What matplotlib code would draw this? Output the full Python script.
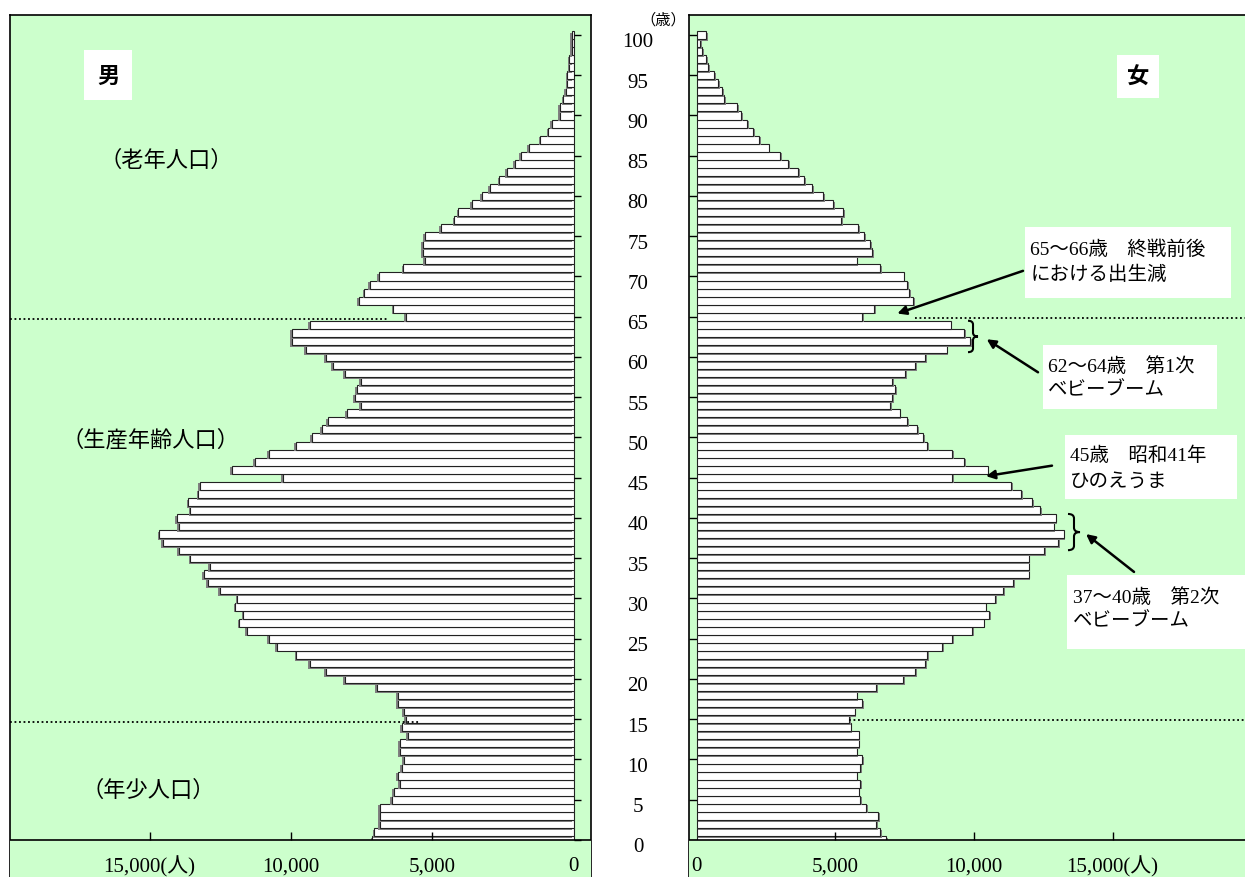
import numpy as np
import matplotlib
matplotlib.use("Agg")
import matplotlib.pyplot as plt
import matplotlib.patheffects as pe
from matplotlib.path import Path
from matplotlib.patches import PathPatch, Rectangle
from matplotlib.transforms import blended_transform_factory, ScaledTranslation

# 年齢別人口（人） 0歳〜100歳以上
ages = np.arange(0, 101)
male = [7118, 7047, 6847, 6847, 6847, 6435, 6364, 6151, 6222, 6081,
        6010, 6151, 6151, 5868, 6081, 5939, 6010, 6222, 6222, 6965,
        8085, 8775, 9330, 9810, 10502, 10785, 11552, 11823, 11681, 11964,
        11894, 12519, 12932, 13073, 12861, 13557, 13970, 14525, 14655, 13970,
        14040, 13557, 13628, 13274, 13215, 10290, 12096, 11270, 10774, 9819,
        9265, 8911, 8705, 8026, 7531, 7743, 7673, 7531, 8085, 8510,
        8775, 9477, 9961, 9961, 9340, 5939, 6375, 7602, 7400, 7200,
        6900, 6021, 5250, 5340, 5340, 5250, 4700, 4220, 4080, 3590,
        3250, 2970, 2630, 2350, 2070, 1870, 1590, 1170, 890, 760,
        490, 490, 360, 280, 220, 220, 150, 150, 60, 50,
        50]
female = [6830, 6614, 6481, 6554, 6121, 5904, 5844, 5904, 5772, 5904,
          5977, 5772, 5844, 5844, 5556, 5495, 5700, 5977, 5772, 6475,
          7455, 7888, 8242, 8309, 8862, 9222, 9930, 10353, 10558, 10425,
          10774, 11062, 11411, 11976, 11976, 11976, 12541, 13034, 13238, 12877,
          12949, 12396, 12108, 11699, 11340, 9223, 10498, 9656, 9223, 8309,
          8165, 7961, 7600, 7323, 6975, 7047, 7167, 7047, 7528, 7888,
          8245, 9019, 9861, 9650, 9160, 5977, 6409, 7810, 7672, 7600,
          7468, 6614, 5772, 6337, 6265, 6049, 5832, 5207, 5279, 4930,
          4570, 4161, 3872, 3668, 3307, 3018, 2597, 2261, 2032, 1816,
          1611, 1467, 986, 914, 770, 625, 409, 337, 204, 120,
          337]

age_ticks = list(range(0, 101, 5))
pop_ticks = [0, 5000, 10000, 15000]
pop_labels = ["0", "5,000", "10,000", "15,000(人)"]

GREEN = "#ccffcc"
NUM_FONT = ["Liberation Serif", "Noto Sans CJK JP"]
JP_FONT = ["Noto Sans CJK JP", "DejaVu Sans"]

W, H = 1245, 878
fig = plt.figure(figsize=(W / 100, H / 100), dpi=100)
fig.patch.set_facecolor("white")


def px_axes(x0, x1, y0, y1):
    return fig.add_axes([x0 / W, 1 - y1 / H, (x1 - x0) / W, (y1 - y0) / H])


axL = px_axes(10, 591, 15.7, 890)
axR = px_axes(689, 1252, 15.7, 890)
axL.set_xlim(19940, -619)
axR.set_xlim(-278, 20032)

for ax, vals, off in ((axL, male, -1.2), (axR, female, 1.2)):
    ax.set_facecolor(GREEN)
    ax.set_ylim(-6.09, 102.52)
    for s in ax.spines.values():
        s.set_linewidth(1.2)
        s.set_color("black")
    ax.barh(ages, vals, height=1.0, color="white", edgecolor="#222222",
            linewidth=0.8, zorder=2,
            path_effects=[pe.SimplePatchShadow(offset=(off, -1.2),
                                               shadow_rgbFace="0.5", alpha=1),
                          pe.Normal()])
    # 0歳の線より下は隠す
    ax.axhspan(-10, 0, color=GREEN, zorder=3, lw=0)
    ax.axhline(0, color="black", lw=1.2, zorder=4)
    ax.vlines(pop_ticks[1:], 0, 1.0, color="black", lw=1, zorder=4)
    for v, lab in zip(pop_ticks, pop_labels):
        ax.text(v, -3.2, lab, ha="center", va="center", fontsize=15,
                family=NUM_FONT, zorder=5)
    ax.set_xticks([])

# 年齢目盛り
axL.set_yticks([])
axL.hlines(age_ticks, 0, -265, color="black", lw=1, zorder=4)
axR.set_yticks(age_ticks)
axR.tick_params(axis="y", direction="in", length=5.5, width=1, labelleft=False)
lab_tr = blended_transform_factory(axR.transAxes, axR.transData) + \
    ScaledTranslation(0, -0.07, fig.dpi_scale_trans)
for a in age_ticks:
    axR.text(-0.0906, a, str(a), transform=lab_tr, ha="center", va="center",
             fontsize=15, family=NUM_FONT, clip_on=False)
fig.text(663 / W, 1 - 20 / H, "（歳）", ha="center", va="center",
         fontsize=11, family=JP_FONT)

# 区分線（点線）
axL.hlines([64.7, 14.7], 19940, [6564, 5467], color="black", lw=1.3,
           linestyles=(0, (1, 1.5)), zorder=4)
axR.hlines([64.9, 14.9], [7875, 5494], 20032, color="black", lw=1.3,
           linestyles=(0, (1, 1.5)), zorder=4)

# 男・女 と人口区分
axL.text(16472, 95.0, "男", ha="center", va="center", fontsize=16,
         fontweight="bold", family=JP_FONT, zorder=6,
         bbox=dict(boxstyle="square,pad=0.6", fc="white", ec="none"))
axR.text(15920, 94.9, "女", ha="center", va="center", fontsize=16,
         fontweight="bold", family=JP_FONT, zorder=6,
         bbox=dict(boxstyle="square,pad=0.45", fc="white", ec="none"))
for txt, x, y in (("（老年人口）", 14420, 84.6),
                  ("（生産年齢人口）", 14986, 49.8),
                  ("（年少人口）", 15057, 6.3)):
    axL.text(x, y, txt, ha="center", va="center", fontsize=16,
             family=JP_FONT, zorder=6)

# 注記ボックス
notes = [
    ((11843, 67.3, 19263, 76.2), 12038, (73.5, 70.3),
     ("65～66歳　終戦前後", "における出生減")),
    ((12504, 53.5, 18759, 61.5), 12673, (58.9, 56.0),
     ("62～64歳　第1次", "ベビーブーム")),
    ((13286, 42.3, 19502, 50.3), 13467, (47.8, 44.6),
     ("45歳　昭和41年", "ひのえうま")),
    ((13369, 23.7, 20100, 32.9), 13564, (30.2, 27.2),
     ("37～40歳　第2次", "ベビーブーム")),
]
for (x0, y0, x1, y1), tx, tys, lines in notes:
    axR.add_patch(Rectangle((x0, y0), x1 - x0, y1 - y0, fc="white",
                            ec="none", zorder=5))
    for ty, line in zip(tys, lines):
        axR.text(tx, ty, line, ha="left", va="center", fontsize=14,
                 family=NUM_FONT, zorder=6)

arrows = [((7237, 65.4), (11771, 70.7)),
          ((10462, 62.2), (12312, 58.1)),
          ((10436, 45.2), (12817, 46.5)),
          ((14044, 38.0), (15776, 33.3))]
for head, tail in arrows:
    axR.annotate("", xy=head, xytext=tail, zorder=6,
                 arrowprops=dict(arrowstyle="-|>", color="black", lw=1.8,
                                 mutation_scale=13, shrinkA=0, shrinkB=0))


def brace(ax, x0, x1, ytop, ybot):
    xm = (x0 + x1) / 2
    ym = (ytop + ybot) / 2
    r = (ytop - ybot) * 0.12
    verts = [(x0, ytop), (xm, ytop), (xm, ytop - r),
             (xm, ym + r),
             (xm, ym), (x1, ym), (xm, ym),
             (xm, ym - r),
             (xm, ybot + r), (xm, ybot), (x0, ybot)]
    codes = [Path.MOVETO, Path.CURVE3, Path.CURVE3,
             Path.LINETO,
             Path.CURVE3, Path.CURVE3, Path.CURVE3,
             Path.CURVE3,
             Path.LINETO, Path.CURVE3, Path.CURVE3]
    ax.add_patch(PathPatch(Path(verts, codes), fc="none", ec="black",
                           lw=1.5, zorder=6))


brace(axR, 9787, 10148, 64.5, 60.6)
brace(axR, 13394, 13827, 40.5, 36.0)

fig.savefig("out.png", dpi=100)
